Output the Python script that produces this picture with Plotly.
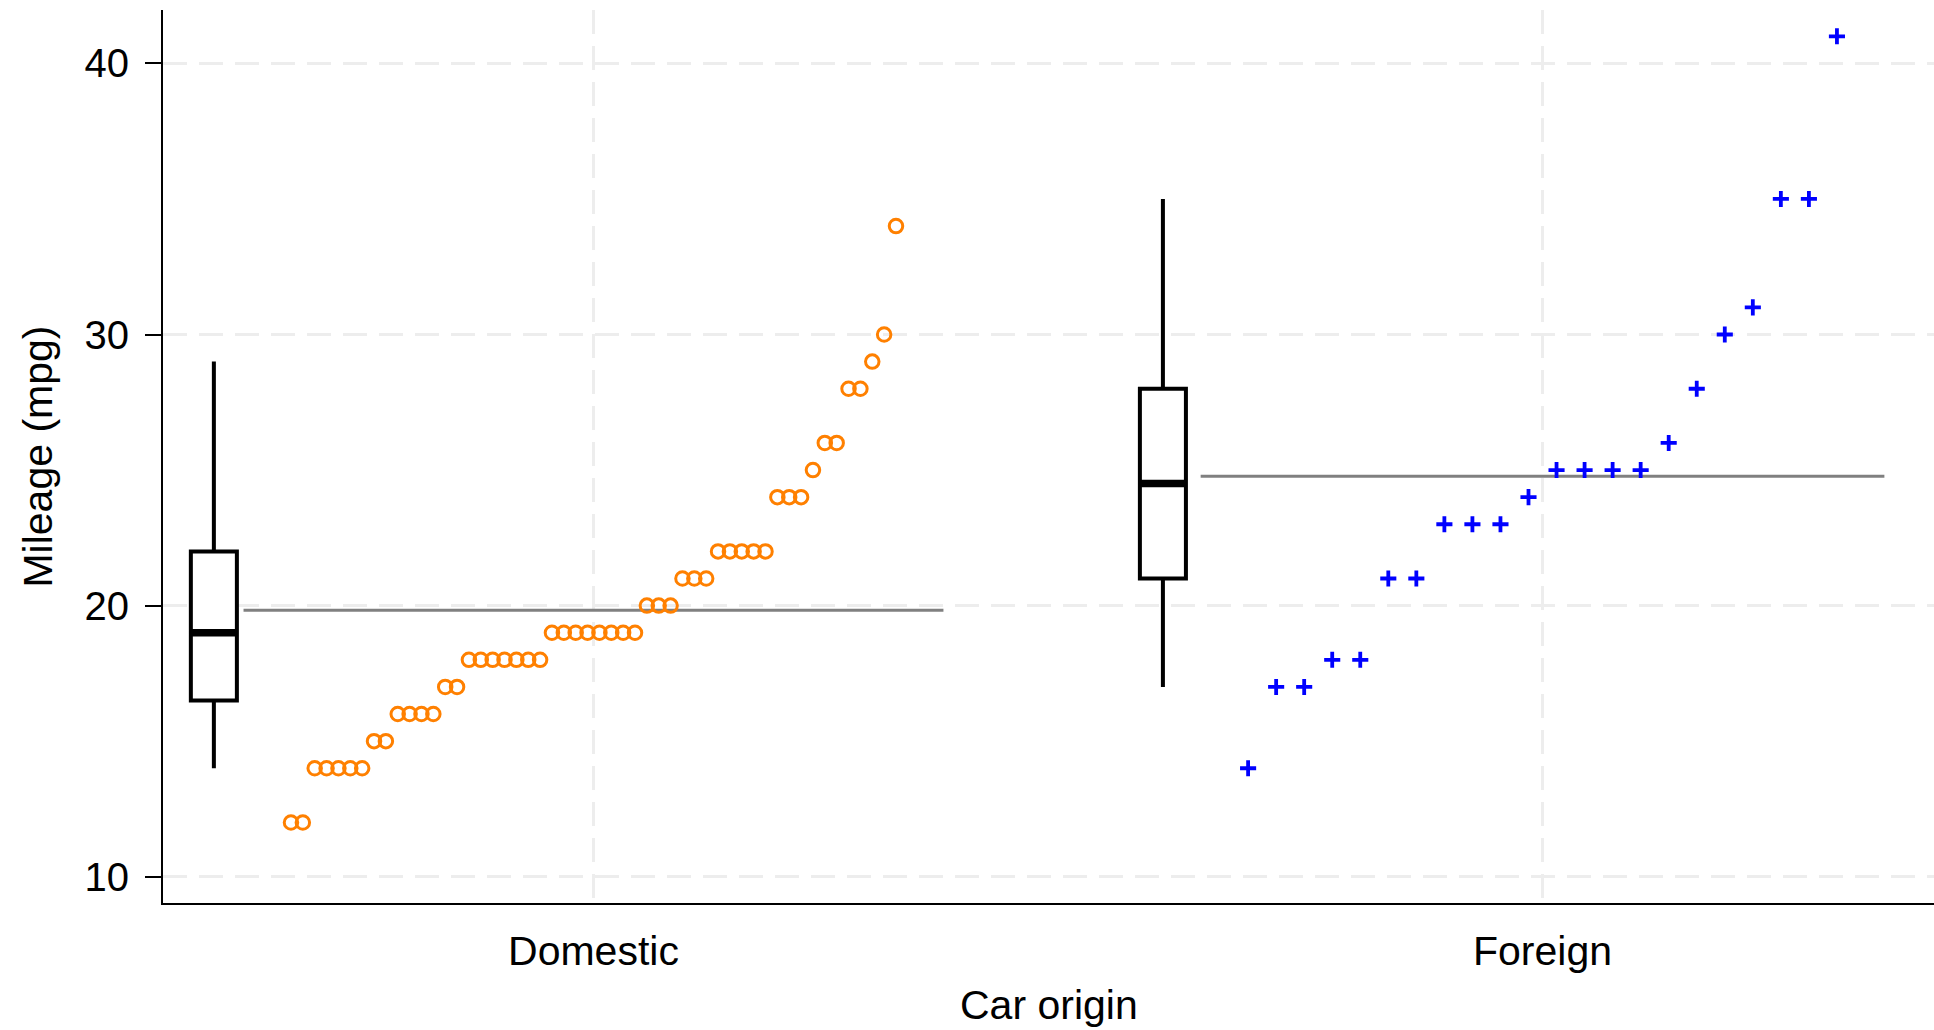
import plotly.graph_objects as go
import numpy as np

# ---------------- data ----------------
categories = ["Domestic", "Foreign"]
domestic_mpg = [12, 12, 14, 14, 14, 14, 14, 15, 15, 16, 16, 16, 16, 17, 17,
                18, 18, 18, 18, 18, 18, 18, 19, 19, 19, 19, 19, 19, 19, 19,
                20, 20, 20, 21, 21, 21, 22, 22, 22, 22, 22, 24, 24, 24, 25,
                26, 26, 28, 28, 29, 30, 34]
foreign_mpg = [14, 17, 17, 18, 18, 21, 21, 23, 23, 23, 24, 25, 25, 25, 25,
               26, 28, 30, 31, 35, 35, 41]
box_q1 = [16.5, 21]
box_median = [19, 24.5]
box_q3 = [22, 28]
whisker_low = [14, 17]
whisker_high = [29, 35]
y_ticks = [10, 20, 30, 40]

# ---------------- layout parameters ----------------
cat_pos = [1, 2]
box_offset = -0.4
box_width = 0.0485
strip_width = 0.65
mean_ext = 0.05
FONT = "Liberation Sans, Arial, sans-serif"

fig = go.Figure()

groups = [domestic_mpg, foreign_mpg]
marker_styles = [
    dict(symbol="circle-open", size=13.5, color="#FF8000", line=dict(width=3, color="#FF8000")),
    dict(symbol="cross-thin-open", size=11.5, color="#0000FF", line=dict(width=3.8, color="#0000FF")),
]

for i, vals in enumerate(groups):
    p = cat_pos[i]
    bx = p + box_offset
    # box
    fig.add_trace(go.Box(
        x=[bx], q1=[box_q1[i]], median=[box_median[i]], q3=[box_q3[i]],
        lowerfence=[whisker_low[i]], upperfence=[whisker_high[i]],
        width=box_width, fillcolor="white", whiskerwidth=0,
        line=dict(color="black", width=4), boxpoints=False,
        hoverinfo="skip", showlegend=False,
    ))
    # thick median
    fig.add_trace(go.Scatter(
        x=[bx - box_width / 2, bx + box_width / 2], y=[box_median[i]] * 2,
        mode="lines", line=dict(color="black", width=7.5),
        hoverinfo="skip", showlegend=False,
    ))
    # strip positions
    v = np.sort(np.array(vals, dtype=float))
    n = len(v)
    xs = p - strip_width / 2 + (np.arange(n) + 0.5) * strip_width / n
    # mean line
    m = float(np.mean(v))
    fig.add_trace(go.Scatter(
        x=[xs[0] - mean_ext, xs[-1] + mean_ext], y=[m, m],
        mode="lines", line=dict(color="#808080", width=3),
        hoverinfo="skip", showlegend=False,
    ))
    # points
    fig.add_trace(go.Scatter(
        x=xs, y=v, mode="markers", marker=marker_styles[i],
        hoverinfo="skip", showlegend=False,
    ))

grid_col = "#EDEDED"
fig.update_layout(
    width=1934, height=1030,
    margin=dict(l=163, r=0, t=10, b=127),
    paper_bgcolor="white", plot_bgcolor="white",
    font=dict(family=FONT, color="black", size=40),
    showlegend=False,
    xaxis=dict(
        range=[0.5464, 2.4125], tickmode="array", tickvals=cat_pos, ticktext=categories,
        showgrid=True, gridcolor=grid_col, gridwidth=3, griddash="24px,12px",
        zeroline=False, showline=True, linecolor="black", linewidth=2,
        ticks="", tickfont=dict(size=41), ticklabelstandoff=11,
    ),
    yaxis=dict(
        range=[9.03, 41.97], tickmode="array", tickvals=y_ticks,
        showgrid=True, gridcolor=grid_col, gridwidth=3, griddash="24px,12px",
        zeroline=False, showline=True, linecolor="black", linewidth=2,
        ticks="outside", ticklen=16, tickwidth=2, tickcolor="black",
        tickfont=dict(size=40), ticklabelstandoff=8,
    ),
    annotations=[
        dict(text="Car origin", xref="paper", yref="paper", x=0.5, y=-0.1142,
             xanchor="center", yanchor="middle", showarrow=False, font=dict(size=41)),
        dict(text="Mileage (mpg)", xref="paper", yref="paper", x=-0.0711, y=0.5,
             xanchor="center", yanchor="middle", textangle=-90, showarrow=False,
             font=dict(size=41)),
    ],
)

fig.write_html("out.html")
